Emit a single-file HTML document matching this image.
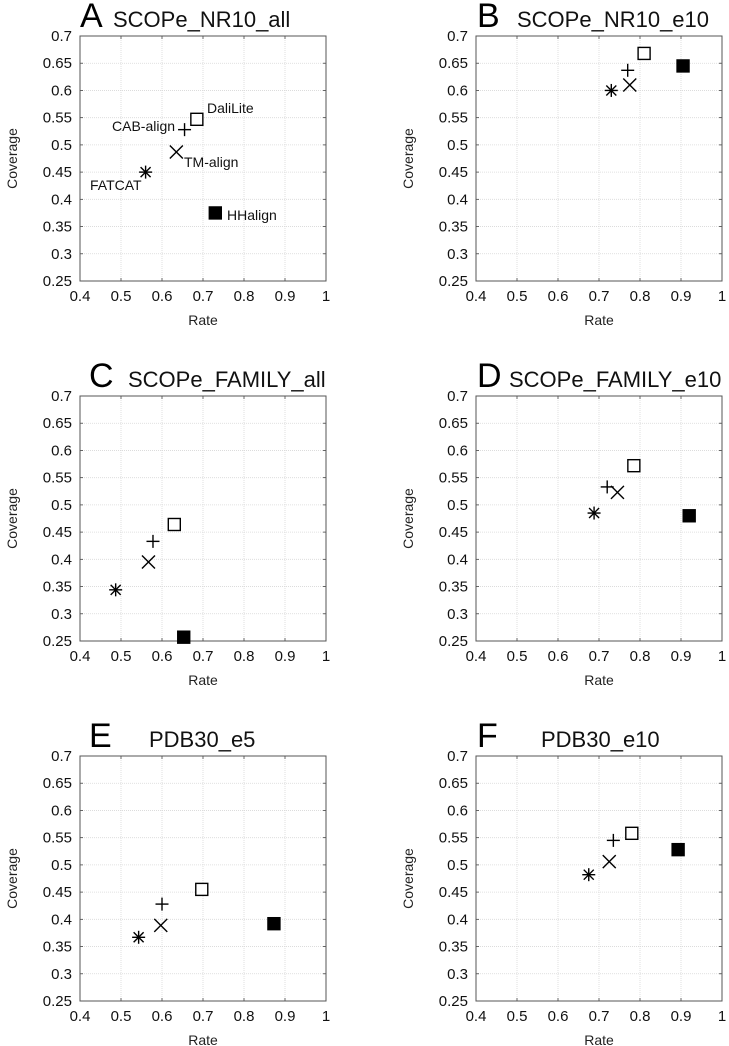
<!DOCTYPE html>
<html><head><meta charset="utf-8">
<style>
html,body{margin:0;padding:0;background:#fff;}
svg{display:block;font-family:"Liberation Sans",Arial,sans-serif;}
</style></head>
<body>
<svg id="fig" width="729" height="1046" viewBox="0 0 729 1046" xmlns="http://www.w3.org/2000/svg"></svg>
<script>
const panelLetters = ["A","B","C","D","E","F"];
const panelTitles = ["SCOPe_NR10_all","SCOPe_NR10_e10","SCOPe_FAMILY_all","SCOPe_FAMILY_e10","PDB30_e5","PDB30_e10"];
const methods = ["DaliLite","CAB-align","TM-align","FATCAT","HHalign"];
const rateA = [0.685,0.655,0.635,0.56,0.73];
const covA  = [0.547,0.528,0.487,0.45,0.375];
const rateB = [0.81,0.77,0.775,0.73,0.905];
const covB  = [0.668,0.637,0.61,0.6,0.645];
const rateC = [0.63,0.578,0.567,0.487,0.653];
const covC  = [0.464,0.433,0.395,0.344,0.257];
const rateD = [0.785,0.72,0.745,0.688,0.92];
const covD  = [0.572,0.533,0.523,0.485,0.48];
const rateE = [0.697,0.6,0.597,0.543,0.873];
const covE  = [0.455,0.428,0.389,0.367,0.392];
const rateF = [0.78,0.735,0.725,0.675,0.893];
const covF  = [0.558,0.545,0.506,0.482,0.528];
const xTicks = [0.4,0.5,0.6,0.7,0.8,0.9,1];
const xTickLabels = ["0.4","0.5","0.6","0.7","0.8","0.9","1"];
const yTicks = [0.25,0.3,0.35,0.4,0.45,0.5,0.55,0.6,0.65,0.7];
const yTickLabels = ["0.25","0.3","0.35","0.4","0.45","0.5","0.55","0.6","0.65","0.7"];
const rates = [rateA,rateB,rateC,rateD,rateE,rateF];
const covs = [covA,covB,covC,covD,covE,covF];

const NS="http://www.w3.org/2000/svg";
const svg=document.getElementById("fig");
function el(tag,attrs,parent){const e=document.createElementNS(NS,tag);for(const k in attrs)e.setAttribute(k,attrs[k]);(parent||svg).appendChild(e);return e;}
const W=246,H=245;
const lefts=[80,476];const tops=[36,396,756];
const titleX=[[113,517],[128,509],[149,541]];
const letterX=[[80,477],[89,477],[89,477]];

for(let p=0;p<6;p++){
  const col=p%2,row=Math.floor(p/2);
  const L=lefts[col],T=tops[row];
  const g=el("g",{});
  
  
  const sx=v=>L+(v-0.4)/0.6*W;
  const sy=v=>T+H-(v-0.25)/0.45*H;
  xTicks.forEach((t,i)=>{
    const x=sx(t);
    if(i>0&&i<xTicks.length-1){const gl=el("line",{x1:x,y1:T,x2:x,y2:T+H,stroke:"#d8d8d8","stroke-width":0.8,"stroke-dasharray":"1,1"},g);
      }
    el("line",{x1:x,y1:T+H,x2:x,y2:T+H-3,stroke:"#444","stroke-width":0.8},g);
    el("line",{x1:x,y1:T,x2:x,y2:T+3,stroke:"#444","stroke-width":0.8},g);
    const tx=el("text",{x:x,y:T+H+20,"font-size":15,"text-anchor":"middle",fill:"#111"},g);
    tx.textContent=xTickLabels[i];
    
  });
  yTicks.forEach((t,i)=>{
    const y=sy(t);
    if(i>0&&i<yTicks.length-1){const gl=el("line",{x1:L,y1:y,x2:L+W,y2:y,stroke:"#d8d8d8","stroke-width":0.8,"stroke-dasharray":"1,1"},g);
      }
    el("line",{x1:L,y1:y,x2:L+3,y2:y,stroke:"#444","stroke-width":0.8},g);
    el("line",{x1:L+W,y1:y,x2:L+W-3,y2:y,stroke:"#444","stroke-width":0.8},g);
    const ty=el("text",{x:L-8,y:y+5,"font-size":15,"text-anchor":"end",fill:"#111"},g);
    ty.textContent=yTickLabels[i];
    
  });
  const fr=el("rect",{x:L,y:T,width:W,height:H,fill:"none",stroke:"#555","stroke-width":1},g);
  
  const xl=el("text",{x:L+W/2,y:T+H+44,"font-size":14,"text-anchor":"middle",fill:"#222"},g);
  xl.textContent="Rate";
  
  const cyx=L-63, cyy=T+H/2;
  const yl=el("text",{x:cyx,y:cyy,"font-size":14,"text-anchor":"middle",fill:"#222",transform:`rotate(-90 ${cyx} ${cyy})`},g);
  yl.textContent="Coverage";
  
  const lt=el("text",{x:letterX[row][col],y:T-9,"font-size":34,fill:"#000"},g);
  lt.textContent=panelLetters[p];
  
  const tt=el("text",{x:titleX[row][col],y:T-9,"font-size":22,fill:"#111"},g);
  tt.textContent=panelTitles[p];
  
  const R=rates[p],C=covs[p];
  for(let m=0;m<methods.length;m++){
    const x=sx(R[m]),y=sy(C[m]);
    const mg=el("g",{stroke:"#000","stroke-width":1.4,fill:"none"},g);
    
    
    const s=6.5;
    if(m===0){el("rect",{x:x-6,y:y-6,width:12,height:12,fill:"#fff"},mg);}
    else if(m===1){el("line",{x1:x-s,y1:y,x2:x+s,y2:y},mg);el("line",{x1:x,y1:y-s,x2:x,y2:y+s},mg);}
    else if(m===2){el("line",{x1:x-s,y1:y-s,x2:x+s,y2:y+s},mg);el("line",{x1:x-s,y1:y+s,x2:x+s,y2:y-s},mg);}
    else if(m===3){el("line",{x1:x-s,y1:y,x2:x+s,y2:y},mg);el("line",{x1:x,y1:y-s,x2:x,y2:y+s},mg);
      el("line",{x1:x-5,y1:y-5,x2:x+5,y2:y+5},mg);el("line",{x1:x-5,y1:y+5,x2:x+5,y2:y-5},mg);}
    else {el("rect",{x:x-6,y:y-6,width:12,height:12,fill:"#000"},mg);}
  }
  if(p===0){
    const labs=[["DaliLite",207,113],["CAB-align",112,131],["TM-align",184,167],["FATCAT",90,190],["HHalign",227,220]];
    labs.forEach(l=>{const t=el("text",{x:l[1],y:l[2],"font-size":14,fill:"#111"},g);t.textContent=l[0];
      });
  }
}
</script>
</body></html>
